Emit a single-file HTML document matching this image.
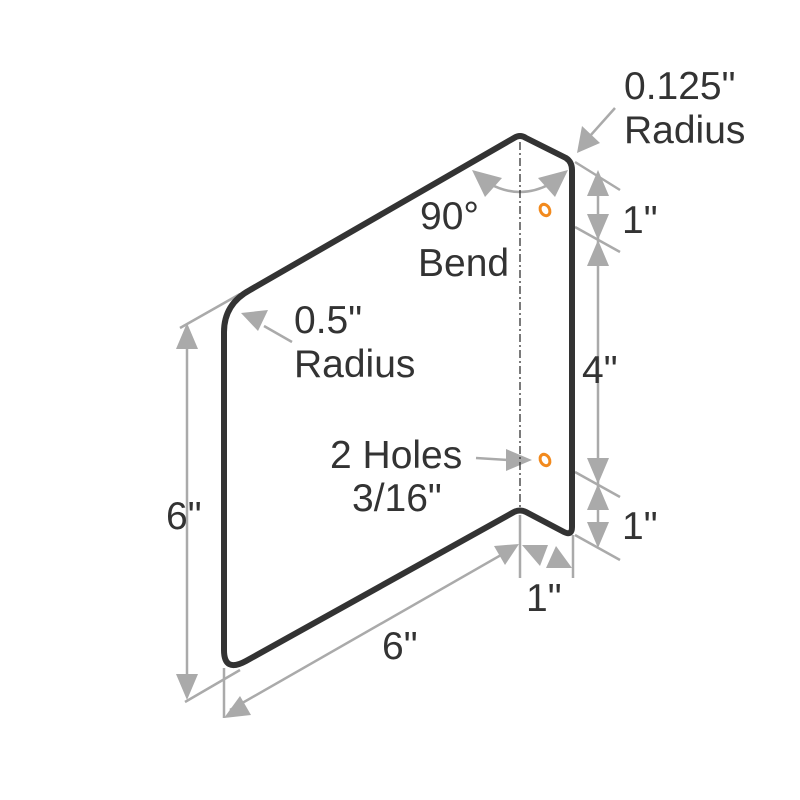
<!DOCTYPE html>
<html><head><style>body{margin:0;background:#fff}svg{display:block}</style></head><body>
<svg width="800" height="800" viewBox="0 0 800 800" xmlns="http://www.w3.org/2000/svg">
<g stroke="#aaa" stroke-width="2.5" fill="none">
<line x1="187" y1="330" x2="187" y2="692"/>
<line x1="180" y1="328" x2="240" y2="294"/>
<line x1="185" y1="702" x2="240" y2="670"/>
<line x1="224" y1="668" x2="224" y2="718"/>
<line x1="230" y1="710" x2="515" y2="547"/>
<line x1="520" y1="515" x2="520" y2="578"/>
<line x1="573" y1="535" x2="573" y2="578"/>
<line x1="598" y1="175" x2="598" y2="545"/>
<line x1="575" y1="162" x2="620" y2="190"/>
<line x1="575" y1="227" x2="620" y2="252"/>
<line x1="575" y1="472" x2="620" y2="497"/>
<line x1="575" y1="535" x2="620" y2="560"/>
<line x1="615" y1="108" x2="590" y2="136"/>
<line x1="292" y1="342" x2="264" y2="326"/>
<line x1="476" y1="458" x2="508" y2="460"/>
<path d="M490 184 Q520 200 550 184"/>
</g>
<g fill="#aaa">
<polygon points="187,323 176,349 198,349"/>
<polygon points="187,700 176,674 198,674"/>
<polygon points="598,170 587,196 609,196"/>
<polygon points="598,240 587,214 609,214"/>
<polygon points="598,240 587,266 609,266"/>
<polygon points="598,484 587,458 609,458"/>
<polygon points="598,484 587,510 609,510"/>
<polygon points="598,548 587,522 609,522"/>
<polygon points="224,718 240,696 251,715"/>
<polygon points="519,544 494,546 505,565"/>
<polygon points="522,545 548,545 540,566"/>
<polygon points="572,568 546,568 556,546"/>
<polygon points="577,153 582,126 600,143"/>
<polygon points="241,313 268,310 258,331"/>
<polygon points="532,460 506,449 506,471"/>
<polygon points="472,170 502,178 485,197"/>
<polygon points="568,170 538,178 555,197"/>
</g>
<line x1="520" y1="142" x2="520" y2="510" stroke="#333" stroke-width="1.3" stroke-dasharray="8,3,2,3"/>
<path d="M224 650 L224 332 Q224 304 250 290 L514 138 Q520 134 526 138 L566 158 Q572 162 572 170 L572 527 Q572 536 564 532 L526 512 Q520 509 514 512 L246 661 Q224 673 224 650 Z" fill="none" stroke="#333" stroke-width="6" stroke-linejoin="round"/>
<g fill="none" stroke="#f28a1e" stroke-width="3">
<ellipse cx="545" cy="210" rx="4.5" ry="6" transform="rotate(-30 545 210)"/>
<ellipse cx="545" cy="460" rx="4.5" ry="6" transform="rotate(-30 545 460)"/>
</g>
<g font-family="Liberation Sans, sans-serif" font-size="39" fill="#333">
<text x="624" y="99">0.125"</text>
<text x="624" y="143">Radius</text>
<text x="420" y="229">90°</text>
<text x="418" y="276">Bend</text>
<text x="294" y="333">0.5"</text>
<text x="294" y="377">Radius</text>
<text x="330" y="468">2 Holes</text>
<text x="352" y="511">3/16"</text>
<text x="166" y="529">6"</text>
<text x="382" y="659">6"</text>
<text x="526" y="611">1"</text>
<text x="622" y="233">1"</text>
<text x="582" y="383">4"</text>
<text x="622" y="539">1"</text>
</g>
</svg>
</body></html>
